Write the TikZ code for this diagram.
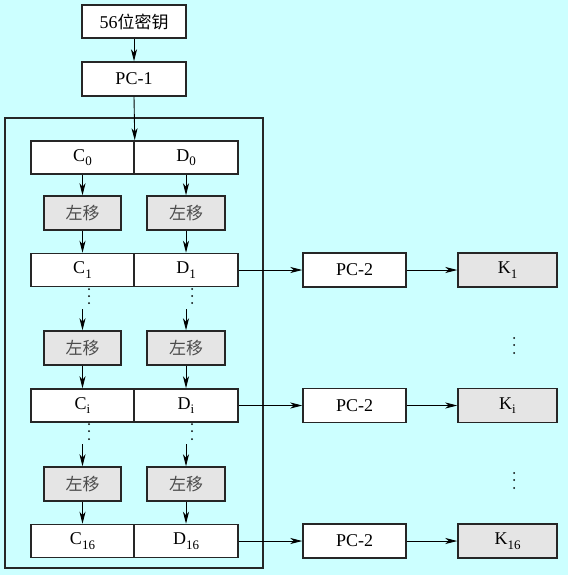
\documentclass[tikz,border=0pt]{standalone}
\usepackage{fontspec}
\setmainfont{Liberation Serif}
\newfontfamily\cjk{Noto Sans CJK SC}
\usetikzlibrary{arrows.meta}
\definecolor{bgc}{RGB}{204,255,255}
\definecolor{grayf}{RGB}{229,229,229}
\newcommand{\sbx}[1]{\raisebox{-0.55ex}{\fontsize{13}{13}\selectfont #1}}
\begin{document}
\begin{tikzpicture}[x=1pt,y=-1pt,
  box/.style={draw=black!85,line width=1.5pt,fill=white,minimum height=33pt,inner sep=0pt,font=\fontsize{18}{18}\selectfont},
  gbox/.style={box,fill=grayf},
  arr/.style={-{Stealth[length=12pt,width=6pt,inset=3.5pt]},line width=0.9pt},
  dot/.style={fill=black,circle,inner sep=0pt,minimum size=2pt}]
\fill[bgc] (0,0) rectangle (568,575);
\useasboundingbox (0,0) rectangle (568,575);
\draw[line width=1.3pt,black!85] (5,118) rectangle (263,568);
% top boxes
\node[box,minimum width=104pt] (key) at (134,21.5) {56{\cjk\fontsize{17}{17}\selectfont 位密钥}};
\node[box,minimum width=104pt,minimum height=34pt] (pc1) at (134,79) {PC-1};
% rows
\foreach \n/\y/\s in {0/157.5/0,1/270/1,i/405.5/i,16/541/16}{
  \node[box,minimum width=103pt] (C\n) at (82.5,\y) {C\sbx{\s}};
  \node[box,minimum width=104pt] (D\n) at (186,\y) {D\sbx{\s}};
}
\foreach \n/\y in {a/213,b/348,c/484}{
  \node[gbox,minimum width=77pt,minimum height=34pt,font=\cjk\fontsize{17}{17}\selectfont,text=black!70] (LC\n) at (82.5,\y) {左移};
  \node[gbox,minimum width=78pt,minimum height=34pt,font=\cjk\fontsize{17}{17}\selectfont,text=black!70] (LD\n) at (186,\y) {左移};
}
\foreach \n/\y in {1/270,i/405.5,16/541}{
  \node[box,minimum width=103pt,minimum height=34pt] (P\n) at (354.5,\y) {PC-2};
  \node[gbox,minimum width=99pt,minimum height=34pt] (K\n) at (507.5,\y) {K\sbx{\n}};
  \draw[arr] (D\n.east) -- (P\n.west);
  \draw[arr] (P\n.east) -- (K\n.west);
}
\draw[arr] (key) -- (pc1);
\draw[arr] (pc1.south) -- (C0.north east);
\draw[arr] (C0) -- (LCa);
\draw[arr] (D0) -- (LDa);
\draw[arr] (LCa) -- (C1);
\draw[arr] (LDa) -- (D1);
\draw[arr] (LCb) -- (Ci);
\draw[arr] (LDb) -- (Di);
\draw[arr] (LCc) -- (C16);
\draw[arr] (LDc) -- (D16);
% dots and arrows after dots
\coordinate (ac1) at (82.5,309);
\coordinate (ad1) at (186,309);
\coordinate (ac2) at (82.5,444);
\coordinate (ad2) at (186,444);
\draw[arr] (ac1) -- (LCb);
\draw[arr] (ad1) -- (LDb);
\draw[arr] (ac2) -- (LCc);
\draw[arr] (ad2) -- (LDc);
\foreach \yy in {289,296,303}{
  \node[dot] at (89,\yy) {}; \node[dot] at (192,\yy) {};}
\foreach \yy in {424,431,439}{
  \node[dot] at (89,\yy) {}; \node[dot] at (192,\yy) {};}
\foreach \yy in {338,345,353,473,480,488}{
  \node[dot] at (514,\yy) {};}
\end{tikzpicture}
\end{document}
